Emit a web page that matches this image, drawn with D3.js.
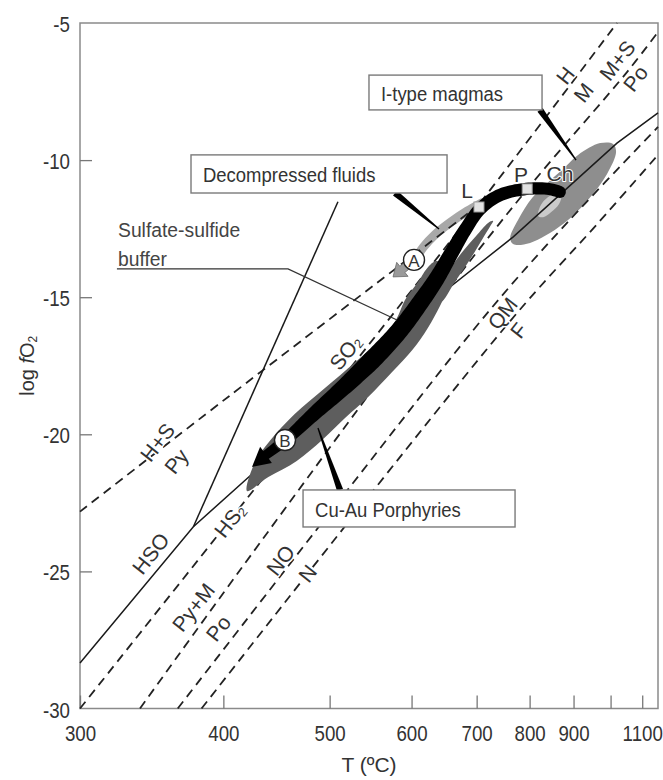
<!DOCTYPE html>
<html><head><meta charset="utf-8">
<script src="https://cdn.jsdelivr.net/npm/d3@7"></script>
<style>
html,body{margin:0;padding:0;background:#fff;}
svg{display:block;font-family:"Liberation Sans",Arial,Helvetica,sans-serif;}
</style></head><body>
<svg id="chart" width="663" height="780"></svg>
<script>
// ---------- DATA (T in ºC, log fO2) ----------
const xTicks = [300, 400, 500, 600, 700, 800, 900, 1000, 1100];
const xTickLabels = ["300", "400", "500", "600", "700", "800", "900", "", "1100"];
const yTicks = [-5, -10, -15, -20, -25, -30];
const xDomain = [300, 1156];
const yDomain = [-30, -5];

// buffer curves (dashed)
const hematiteMagnetite = [[300,-30],[702,-11.67],[1019,-5]];
const hematiteSulfurPyrite = [[300,-22.82],[405,-18.60],[702,-11.67]];
const pyriteMagnetitePyrrhotite = [[338,-30],[414,-24.95],[626,-15.58],[797,-11.02],[1050,-6.79],[1156,-5.33]];
const nickelNickelOxide = [[364.6,-30],[511,-22.40],[723,-15.47],[884,-12.29],[1156,-8.79]];
const quartzMagnetiteFayalite = [[382.6,-30],[761,-15.87],[962,-12.33],[1156,-9.81]];
// sulfur species boundaries (solid)
const sulfateSulfide = [[300,-28.34],[376.3,-23.37],[425.4,-21.41],[626,-15.21],[767,-12.80],[1019,-9.38],[1156,-8.28]];
const bisulfateSO2 = [[376.3,-23.37],[509.1,-11.52]];

// fields
const itypeField = [[766.7,-13.06],[800.9,-13.02],[874.4,-12.33],[934.6,-11.49],[989.7,-10.51],[1016.3,-9.70],[1007.3,-9.41],[969.9,-9.38],[911.3,-9.81],[872.0,-10.36],[837.6,-10.84],[805.1,-11.38],[776.4,-12.18],[761,-12.84]];
const chField = [[818,-12.04],[824,-11.64],[840,-11.35],[858,-11.20],[870,-11.31],[865,-11.60],[847,-11.89],[829,-12.08]];
const cuAuField = [[420,-22.07],[439,-21.56],[466,-20.97],[492,-20.21],[517,-19.41],[544,-18.64],[574,-17.73],[601,-16.93],[623,-16.12],[641,-15.32],[652,-14.74],[655,-14.23],[647,-13.79],[635,-13.68],[622,-13.94],[609,-14.45],[591,-15.10],[579,-15.83],[559,-16.56],[529,-17.36],[495,-18.31],[464,-19.26],[441,-20.21],[427,-21.01]];
const cuAuSliver = [[641,-15.21],[664,-14.45],[686,-13.72],[709,-12.91],[724,-12.40],[729,-12.22],[720,-12.29],[699,-12.77],[676,-13.35],[655,-14.01],[638,-14.66],[629,-15.10]];
// magmatic fluid path (black) and decompressed fluid path (grey)
const magmaPath = [[433,-20.86],[455,-20.21],[484.5,-19.22],[517,-18.24],[552.4,-17.18],[584,-16.20],[611.8,-15.21],[636.6,-14.30],[659.6,-13.35],[680.5,-12.55],[706,-11.78],[742,-11.27],[795,-11.05],[840,-11.05],[867,-11.16]];
const magmaArrowTip = [424.3,-21.19];
const decompressedPath = [[709,-11.56],[684,-11.86],[656,-12.29],[633,-12.73],[617,-13.16],[608,-13.49]];
const decompressedArrowTip = [575.2,-14.26];
const markerCircles = [{id:"A", p:[603.4,-13.64]}, {id:"B", p:[454.6,-20.21]}];
const markerSquares = [{id:"L", p:[704,-11.71]}, {id:"P", p:[795,-11.05]}];

// annotation boxes: [T left, T right, fO2 top, fO2 bottom], leader base and tip
const boxTexts = ["Decompressed fluids", "I-type magmas", "Cu-Au Porphyries"];
const boxExtents = [[374.5,651.8,-9.81,-11.20],[545.0,826.5,-6.90,-8.17],[472.3,770.5,-22.03,-23.38]];
const boxLeaders = [[[577.8,-11.20],[639.6,-12.51]],[[822.2,-8.17],[906.3,-10.0]],[[511.4,-22.03],[487.6,-19.77]]];
const bufferLeader = [[322.8,-13.97],[457.5,-13.97],[580.4,-15.83]];
const bufferText = [["Sulfate-sulfide",[323.5,-12.80]],["buffer",[323.5,-13.86]]];

// line labels (rotated) : text parts, position
const lineLabels = [
  [[{t:"H+S"}],[349.7,-20.28]], [[{t:"Py"}],[363.3,-20.97]],
  [[{t:"HSO"}],[345,-24.33]],
  [[{t:"HS"},{t:"2",sub:true}],[405,-23.13]],
  [[{t:"Py+M"}],[376,-26.30]], [[{t:"Po"}],[395.6,-27.06]],
  [[{t:"NO"}],[450,-24.58]], [[{t:"N"}],[476.3,-25.06]],
  [[{t:"QM"}],[745.5,-15.58]], [[{t:"F"}],[776.4,-16.20]],
  [[{t:"SO"},{t:"2",sub:true}],[517,-17.0]],
  [[{t:"H"}],[879,-6.90]], [[{t:"M"}],[924,-7.52]],
  [[{t:"M+S"}],[1019,-6.35]], [[{t:"Po"}],[1076,-7.01]]
];
const pointLabels = [["L",[683.8,-11.09]],["P",[782.5,-10.51]],["Ch",[867.3,-10.47]]];

// ---------- SCALES ----------
const svg = d3.select("#chart");
const inv = T => 1000 / (T + 273.15);
const xu = d3.scaleLinear().domain([inv(xDomain[0]), inv(xDomain[1])]).range([80, 658]);
const x = T => xu(inv(T));
const y = d3.scaleLinear().domain([yDomain[1], yDomain[0]]).range([23, 708.5]);
const P = d => [x(d[0]), y(d[1])];
const line = d3.line().x(d => x(d[0])).y(d => y(d[1]));
const smooth = d3.line().x(d => x(d[0])).y(d => y(d[1])).curve(d3.curveCatmullRom.alpha(0.5));
const closed = d3.line().x(d => x(d[0])).y(d => y(d[1])).curve(d3.curveCatmullRomClosed.alpha(0.5));
const FONT = '"Liberation Sans",Arial,Helvetica,sans-serif';
const TXT = "#333";

function addText(parent, px, py, parts, o = {}) {
  const size = o.size || 21;
  const t = parent.append("text")
    .attr("transform", `translate(${px},${py}) rotate(${o.rot || 0}) scale(${o.sx || 1},1)`)
    .attr("text-anchor", o.anchor || "middle")
    .attr("dominant-baseline", o.baseline || "central")
    .attr("font-size", size).attr("fill", o.color || TXT).attr("font-family", FONT);
  if (o.halo) t.attr("stroke", "#fff").attr("stroke-width", o.halo).attr("paint-order", "stroke").attr("stroke-linejoin", "round");
  let shifted = 0;
  (typeof parts === "string" ? [{t: parts}] : parts).forEach(p => {
    const s = t.append("tspan").text(p.t);
    if (p.it) s.attr("font-style", "italic");
    if (p.sub) { const sh = size * 0.28; s.attr("font-size", size * 0.6).attr("dy", (sh - shifted) + "px"); shifted = sh; }
    else if (shifted) { s.attr("dy", (-shifted) + "px"); shifted = 0; }
  });
  return t;
}

// ---------- FRAME & AXES ----------
svg.append("rect").attr("x", x(xDomain[0])).attr("y", y(yDomain[1]))
  .attr("width", x(xDomain[1]) - x(xDomain[0])).attr("height", y(yDomain[0]) - y(yDomain[1]))
  .attr("fill", "none").attr("stroke", "#8a8a8a").attr("stroke-width", 1.5);

const gx = svg.append("g").attr("transform", `translate(0,${y(yDomain[0])})`)
  .call(d3.axisBottom(xu).tickValues(xTicks.map(inv)).tickFormat((d, i) => xTickLabels[i]).tickSizeInner(-13).tickSizeOuter(0));
gx.select(".domain").remove();
gx.selectAll(".tick line").attr("stroke", "#777").attr("stroke-width", 1.3);
gx.selectAll(".tick text").attr("y", 0).attr("dy", null).attr("transform", "translate(0,32) scale(0.85,1)")
  .attr("font-size", 22).attr("font-family", FONT).attr("fill", TXT);

const gy = svg.append("g").attr("transform", `translate(${x(xDomain[0])},0)`)
  .call(d3.axisLeft(y).tickValues(yTicks).tickFormat(d3.format("d")).tickSizeInner(-12).tickSizeOuter(0));
gy.select(".domain").remove();
gy.selectAll(".tick line").attr("stroke", "#777").attr("stroke-width", 1.3)
  .attr("opacity", d => (d === -5 || d === -30) ? 0 : 1);
gy.selectAll(".tick text").attr("x", 0).attr("dy", null).attr("dominant-baseline", "central")
  .attr("transform", "translate(-10,1) scale(0.85,1)").attr("font-size", 22).attr("font-family", FONT).attr("fill", TXT);
gy.selectAll(".tick text").text(d => String(d));

addText(svg, (x(xDomain[0]) + x(xDomain[1])) / 2, 772, "T (ºC)", {baseline: "alphabetic", size: 21});
addText(svg, 27, (y(yDomain[0]) + y(yDomain[1])) / 2, [{t: "log "}, {t: "f", it: true}, {t: "O"}, {t: "2", sub: true}], {rot: -90, size: 20});

// ---------- FIELDS ----------
svg.append("path").attr("d", closed(itypeField)).attr("fill", "#8e8e8e");
svg.append("path").attr("d", closed(chField)).attr("fill", "#cbcbcb");

// decompressed fluid band
svg.append("path").attr("d", smooth(decompressedPath)).attr("fill", "none")
  .attr("stroke", "#a8a8a8").attr("stroke-width", 9).attr("stroke-linecap", "round");

// ---------- LINES ----------
const dashed = [hematiteMagnetite, hematiteSulfurPyrite, pyriteMagnetitePyrrhotite, nickelNickelOxide, quartzMagnetiteFayalite];
dashed.forEach(d => svg.append("path").attr("d", smooth(d)).attr("fill", "none")
  .attr("stroke", "#222").attr("stroke-width", 1.8).attr("stroke-dasharray", "9,6"));
[sulfateSulfide, bisulfateSO2].forEach(d => svg.append("path").attr("d", line(d)).attr("fill", "none")
  .attr("stroke", "#1a1a1a").attr("stroke-width", 1.5));

// Cu-Au porphyry field
svg.append("path").attr("d", closed(cuAuField)).attr("fill", "#5e5e5e");
svg.append("path").attr("d", closed(cuAuSliver)).attr("fill", "#5e5e5e");

// ---------- MAGMATIC FLUID RIBBON ----------
(function () {
  const p = svg.append("path").attr("d", smooth(magmaPath)).attr("fill", "none");
  const node = p.node(), len = node.getTotalLength(), n = 160, s = [];
  for (let i = 0; i <= n; i++) { const q = node.getPointAtLength(len * i / n); s.push([q.x, q.y]); }
  p.remove();
  const wAt = d3.scaleLinear().domain([0, 0.12, 0.35, 0.55, 0.75, 1]).range([9, 13, 19, 17, 13, 12]);
  const left = [], right = [], normals = [];
  s.forEach((q, i) => {
    const a = s[Math.max(0, i - 1)], b = s[Math.min(n, i + 1)];
    const dx = b[0] - a[0], dy = b[1] - a[1], m = Math.hypot(dx, dy) || 1;
    const nx = -dy / m, ny = dx / m, w = wAt(i / n) / 2;
    normals.push([nx, ny]);
    left.push([q[0] + nx * w, q[1] + ny * w]); right.push([q[0] - nx * w, q[1] - ny * w]);
  });
  svg.append("path").attr("d", d3.line()(left.concat(right.reverse())) + "Z").attr("fill", "#000");
  svg.append("circle").attr("cx", s[n][0]).attr("cy", s[n][1]).attr("r", wAt(1) / 2).attr("fill", "#000");
  const tip = P(magmaArrowTip), b0 = s[2], nn = normals[2];
  svg.append("path").attr("d", d3.line()([[b0[0] + nn[0] * 10, b0[1] + nn[1] * 10], tip, [b0[0] - nn[0] * 10, b0[1] - nn[1] * 10]]) + "Z").attr("fill", "#000");
})();

// decompressed arrow at A
(function () {
  const a = P(markerCircles[0].p), t = P(decompressedArrowTip);
  const dx = t[0] - a[0], dy = t[1] - a[1], m = Math.hypot(dx, dy), ux = dx / m, uy = dy / m, nx = -uy, ny = ux;
  const hb = [t[0] - ux * 12, t[1] - uy * 12];
  const pts = [[a[0] + nx * 4, a[1] + ny * 4], [hb[0] + nx * 4, hb[1] + ny * 4], [hb[0] + nx * 9, hb[1] + ny * 9], t,
    [hb[0] - nx * 9, hb[1] - ny * 9], [hb[0] - nx * 4, hb[1] - ny * 4], [a[0] - nx * 4, a[1] - ny * 4]];
  svg.append("path").attr("d", d3.line()(pts) + "Z").attr("fill", "#9a9a9a").attr("stroke", "#6a6a6a").attr("stroke-width", 0.8);
})();

// markers
markerSquares.forEach(m => {
  const [px, py] = P(m.p);
  svg.append("rect").attr("x", px - 5).attr("y", py - 5).attr("width", 10).attr("height", 10)
    .attr("fill", "#e2e2e2").attr("stroke", "#9a9a9a").attr("stroke-width", 1);
});
markerCircles.forEach(m => {
  const [px, py] = P(m.p);
  svg.append("circle").attr("cx", px).attr("cy", py).attr("r", 10.5).attr("fill", "#fff").attr("stroke", "#222").attr("stroke-width", 1.4);
  addText(svg, px, py + 1, m.id, {size: 17});
});

// ---------- ANNOTATIONS ----------
boxTexts.forEach((txt, i) => {
  const [t0, t1, f0, f1] = boxExtents[i];
  const [base, tip] = boxLeaders[i].map(P);
  const dx = tip[0] - base[0], dy = tip[1] - base[1], m = Math.hypot(dx, dy), nx = -dy / m, ny = dx / m;
  svg.append("path").attr("d", d3.line()([[base[0] + nx * 3.2, base[1] + ny * 3.2], [tip[0] + nx * 0.6, tip[1] + ny * 0.6], [tip[0] - nx * 0.6, tip[1] - ny * 0.6], [base[0] - nx * 3.2, base[1] - ny * 3.2]]) + "Z").attr("fill", "#000");
  svg.append("rect").attr("x", x(t0)).attr("y", y(f0)).attr("width", x(t1) - x(t0)).attr("height", y(f1) - y(f0))
    .attr("fill", "#fff").attr("stroke", "#7a7a7a").attr("stroke-width", 1.4);
  addText(svg, x(t0) + 12, (y(f0) + y(f1)) / 2 + 1, txt, {anchor: "start", sx: 0.88, size: 21});
});
svg.append("path").attr("d", line(bufferLeader)).attr("fill", "none").attr("stroke", "#333").attr("stroke-width", 1.2);
bufferText.forEach(([txt, p]) => addText(svg, x(p[0]), y(p[1]), txt, {anchor: "start", baseline: "alphabetic", sx: 0.92, size: 21, color: "#444"}));

lineLabels.forEach(([parts, p]) => addText(svg, x(p[0]), y(p[1]), parts, {rot: -52, size: 21, halo: 3}));
pointLabels.forEach(([txt, p]) => addText(svg, x(p[0]), y(p[1]), txt, {size: 21, halo: 2}));
</script>
</body></html>
